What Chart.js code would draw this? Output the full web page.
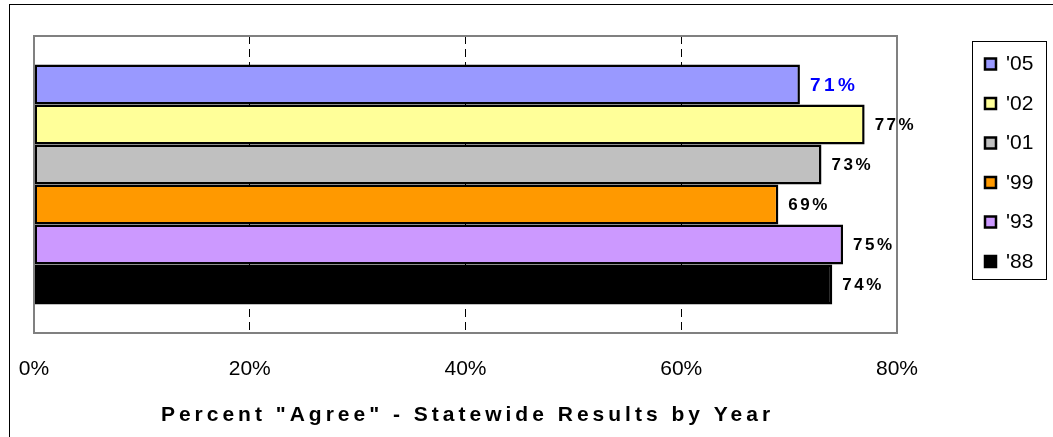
<!DOCTYPE html>
<html>
<head>
<meta charset="utf-8">
<script src="https://cdn.jsdelivr.net/npm/chart.js@4"></script>
<style>
  html, body { margin: 0; padding: 0; background: #fff; }
  #wrap { width: 1053px; height: 437px; }
</style>
</head>
<body>
<div id="wrap"><canvas id="agreeChart" width="1053" height="437"></canvas></div>
<script>
// survey years, top to bottom
const years = ["'05", "'02", "'01", "'99", "'93", "'88"];
// percent agreeing, statewide
const agreeValues = [71, 77, 73, 69, 75, 74];
const barColors = ['#9999FF', '#FFFF99', '#C0C0C0', '#FF9900', '#CC99FF', '#000000'];
const tickValues = [0, 20, 40, 60, 80];
const axisTitle = 'Percent "Agree" - Statewide Results by Year';

const FONT = '"Liberation Sans", Arial, sans-serif';

// frame, plot border, value labels, legend box and title
const decorations = {
    id: 'decorations',
    beforeDraw(chart) {
        const ctx = chart.ctx;
        ctx.save();
        ctx.strokeStyle = '#000';
        ctx.lineWidth = 1;
        ctx.strokeRect(9.5, 4.5, 1100, 500);
        ctx.restore();
    },
    afterDatasetsDraw(chart) {
        const ctx = chart.ctx;
        const a = chart.chartArea;
        ctx.save();

        // gray plot border
        ctx.strokeStyle = '#808080';
        ctx.lineWidth = 2;
        ctx.strokeRect(a.left, a.top, a.right - a.left, a.bottom - a.top);

        // value labels at bar ends
        ctx.textBaseline = 'middle';
        ctx.textAlign = 'left';
        chart.data.datasets.forEach((ds, i) => {
            const bar = chart.getDatasetMeta(i).data[0];
            const first = i === 0;
            ctx.font = 'bold ' + (first ? 19 : 17) + 'px ' + FONT;
            ctx.letterSpacing = first ? '3.5px' : '2.5px';
            ctx.fillStyle = first ? '#0000FF' : '#000';
            ctx.fillText(ds.data[0] + '%', bar.x + 10, bar.y + 1);
        });

        // legend
        ctx.letterSpacing = '0px';
        ctx.fillStyle = '#fff';
        ctx.fillRect(972, 41, 74, 238);
        ctx.strokeStyle = '#000';
        ctx.lineWidth = 1;
        ctx.strokeRect(972.5, 41.5, 74, 238);
        ctx.font = '21px ' + FONT;
        chart.data.datasets.forEach((ds, i) => {
            const cy = 63.5 + i * 39.5;
            ctx.fillStyle = ds.backgroundColor;
            ctx.fillRect(985, cy - 5, 11, 11);
            ctx.strokeStyle = '#000';
            ctx.lineWidth = 2.5;
            ctx.strokeRect(985, cy - 5, 11, 11);
            ctx.fillStyle = '#000';
            ctx.fillText(ds.label, 1006, cy + 1);
        });

        // axis title
        ctx.font = 'bold 21px ' + FONT;
        ctx.letterSpacing = '4px';
        ctx.textAlign = 'center';
        ctx.fillText(axisTitle, (a.left + a.right) / 2 + 2, 415);
        ctx.restore();
    }
};

new Chart(document.getElementById('agreeChart'), {
    type: 'bar',
    data: {
        labels: [''],
        datasets: years.map((y, i) => ({
            label: y,
            data: [agreeValues[i]],
            backgroundColor: barColors[i],
            borderColor: '#000',
            borderWidth: 2.5,
            borderSkipped: false
        }))
    },
    options: {
        indexAxis: 'y',
        responsive: false,
        animation: false,
        datasets: { bar: { categoryPercentage: 0.808, barPercentage: 1 } },
        layout: { padding: { left: 34, top: 36, right: 156, bottom: 0 } },
        plugins: { legend: { display: false }, tooltip: { enabled: false } },
        scales: {
            y: { display: false },
            x: {
                min: 0,
                max: 80,
                afterBuildTicks(scale) { scale.ticks = tickValues.map(v => ({ value: v })); },
                afterFit(scale) {
                    scale.height = 104;
                    scale.paddingLeft = 0;
                    scale.paddingRight = 0;
                },
                ticks: {
                    padding: 24,
                    color: '#000',
                    font: { family: FONT, size: 21 },
                    callback: v => v + '%'
                },
                grid: {
                    drawTicks: false,
                    color: ctx => (ctx.tick && (ctx.tick.value === 0 || ctx.tick.value === 80)) ? 'rgba(0,0,0,0)' : '#000',
                    lineWidth: 1
                },
                border: { display: false, dash: [8, 5] }
            }
        }
    },
    plugins: [decorations]
});
</script>
</body>
</html>
